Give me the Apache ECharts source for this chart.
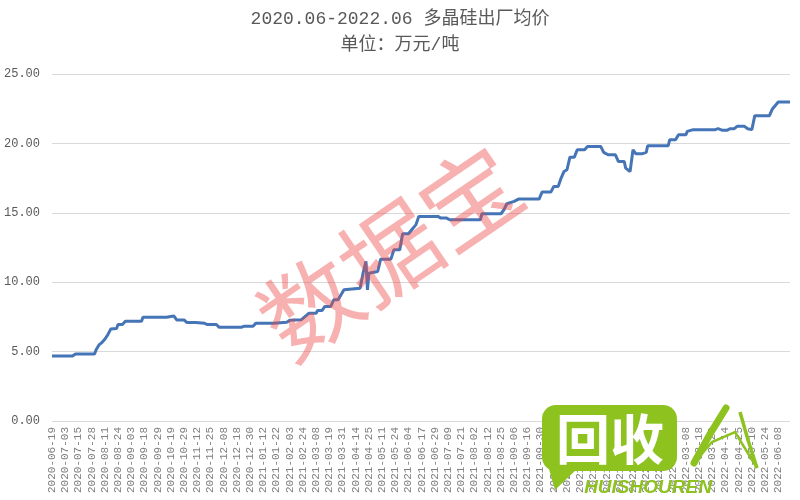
<!DOCTYPE html>
<html>
<head>
<meta charset="utf-8">
<script src="https://cdn.jsdelivr.net/npm/echarts@6/dist/echarts.min.js"></script>
<style>html,body{margin:0;padding:0;background:#fff;}#c{width:800px;height:500px;}</style>
</head>
<body>
<div id="c"></div>
<script>
// Tick labels: one every 9 trading days
var dateLabels = [
  '2020-06-19','2020-07-03','2020-07-15','2020-07-28','2020-08-11','2020-08-24','2020-09-03','2020-09-18',
  '2020-09-29','2020-10-19','2020-10-29','2020-11-12','2020-11-25','2020-12-08','2020-12-18','2020-12-30',
  '2021-01-12','2021-01-22','2021-02-03','2021-02-24','2021-03-08','2021-03-19','2021-03-31','2021-04-14',
  '2021-04-25','2021-05-11','2021-05-24','2021-06-04','2021-06-17','2021-06-29','2021-07-09','2021-07-21',
  '2021-08-02','2021-08-12','2021-08-25','2021-09-06','2021-09-16','2021-09-30','2021-10-20','2021-11-02',
  '2021-11-15','2021-11-26','2021-12-09','2021-12-22','2022-01-05','2022-01-18','2022-02-09','2022-02-23',
  '2022-03-08','2022-03-18','2022-03-29','2022-04-14','2022-04-25','2022-05-10','2022-05-24','2022-06-08'
];
var labelStep = 9;      // trading days between labels
var lastDay = 503;      // trading-day index of the last observation

// Trading-day index of each observation (where the price changes)
var tradingDay = [
  0,14,15,16,29,30,32,34,36,38,40,44,45,48,50,61,62,78,79,83,85,90,92,98,99,104,106,112,114,129,
  131,137,139,151,152,160,162,170,175,180,181,184,186,190,192,195,197,199,200,210,212,214,215,216,217,222,
  224,231,233,237,239,243,246,248,250,263,265,269,271,292,293,306,308,310,315,318,332,334,340,342,345,
  347,349,351,353,356,358,363,365,374,376,379,384,386,390,391,394,396,398,402,403,405,406,420,421,425,
  427,432,433,437,452,454,457,460,462,465,467,472,474,477,479,489,491,492,495,503
];
// Price, 万元/吨
var price = [
  4.69,4.69,4.57,4.83,4.83,5.12,5.48,5.65,5.89,6.20,6.62,6.66,6.95,6.95,7.18,7.18,7.48,7.48,7.57,7.57,
  7.28,7.28,7.09,7.09,7.04,7.04,6.95,6.95,6.75,6.75,
  6.83,6.83,7.05,7.05,7.12,7.12,7.25,7.30,7.76,7.76,7.96,7.96,8.25,8.25,8.73,8.73,9.09,9.45,9.57,9.57,
  10.65,11.50,9.45,10.65,10.77,10.77,
  11.66,11.66,12.33,12.33,13.49,13.49,13.89,14.13,14.74,14.74,14.62,14.62,14.50,14.50,14.93,14.93,15.22,
  15.65,15.82,15.99,15.99,16.49,16.49,16.90,16.90,
  17.50,17.98,18.10,19.01,19.01,19.54,19.54,19.78,19.78,19.35,19.18,19.18,18.70,18.70,18.22,17.98,19.54,
  19.25,19.25,19.35,19.35,19.83,19.83,20.26,20.26,
  20.62,20.62,20.87,20.99,20.99,21.06,20.94,20.94,21.06,21.06,21.23,21.23,21.06,20.99,22.00,22.00,22.48,
  22.48,22.98,22.98
];
var yTicks = { min: 0, max: 25, step: 5 };

var series = [];
for (var i = 0; i < tradingDay.length; i++) series.push([tradingDay[i], price[i]]);

var txt = '#595959';
var green = '#8dc21f';
var chart = echarts.init(document.getElementById('c'), null, { renderer: 'canvas' });
chart.setOption({
  animation: false,
  backgroundColor: '#ffffff',
  title: [
    { text: '2020.06-2022.06 多晶硅出厂均价', left: 'center', top: 5,
      textStyle: { fontSize: 18, fontWeight: 'normal', color: txt, fontFamily: "'Liberation Mono','Noto Sans CJK SC'" } },
    { text: '单位：万元/吨', left: 'center', top: 31,
      textStyle: { fontSize: 18, fontWeight: 'normal', color: txt, fontFamily: "'Liberation Mono','Noto Sans CJK SC'" } }
  ],
  grid: { left: 52, right: 10, top: 74, bottom: 79 },
  xAxis: {
    type: 'value', min: 0, max: lastDay, interval: labelStep,
    axisLine: { show: false }, axisTick: { show: false }, splitLine: { show: false },
    axisLabel: {
      rotate: 90, margin: 6, color: '#7f7f7f', fontSize: 11,
      fontFamily: "'Liberation Mono', monospace",
      showMaxLabel: false,
      formatter: function (v) {
        var k = v / labelStep;
        return (Math.round(k) === k && dateLabels[k]) ? dateLabels[k] : '';
      }
    }
  },
  yAxis: {
    type: 'value', min: yTicks.min, max: yTicks.max, interval: yTicks.step,
    axisLine: { show: false }, axisTick: { show: false },
    splitLine: { lineStyle: { color: '#d9d9d9', width: 1 } },
    axisLabel: { margin: 12, color: txt, fontSize: 12, fontFamily: "'Liberation Mono', monospace",
      formatter: function (v) { return v.toFixed(2); } }
  },
  series: [{
    type: 'line', data: series, showSymbol: false, smooth: false,
    lineStyle: { color: '#4575b6', width: 3 }, z: 3
  }],
  graphic: [
    { type: 'text', x: 390, y: 252, rotation: 0.6, z: 50,
      style: { text: '数据宝', font: '97px "Noto Sans CJK SC"', fill: 'rgba(238,70,70,0.42)',
               align: 'center', verticalAlign: 'middle' } },
    { type: 'rect', z: 60, shape: { x: 542, y: 405, width: 135, height: 66, r: 14 }, style: { fill: green } },
    { type: 'polygon', z: 60, shape: { points: [[547, 462], [555, 490], [578, 468]] }, style: { fill: green } },
    { type: 'text', z: 61, x: 610, y: 439,
      style: { text: '回收', font: 'bold 54px "Noto Sans CJK SC"', fill: '#ffffff', align: 'center', verticalAlign: 'middle' } },
    { type: 'text', z: 61, x: 648, y: 488,
      style: { text: 'HUISHOUREN', font: 'italic bold 19px "Liberation Sans"', fill: green, align: 'center', verticalAlign: 'middle' } },
    { type: 'polyline', z: 61, shape: { points: [[694, 463], [710, 434], [726, 408]] },
      style: { stroke: green, lineWidth: 7, lineCap: 'round', fill: null } },
    { type: 'polyline', z: 61, shape: { points: [[694, 463], [712, 442], [735, 432], [757, 468]] },
      style: { stroke: green, lineWidth: 2.5, fill: null } },
    { type: 'polyline', z: 61, shape: { points: [[740, 412], [748, 440], [757, 468]] },
      style: { stroke: green, lineWidth: 3.5, fill: null } }
  ]
});
</script>
</body>
</html>
